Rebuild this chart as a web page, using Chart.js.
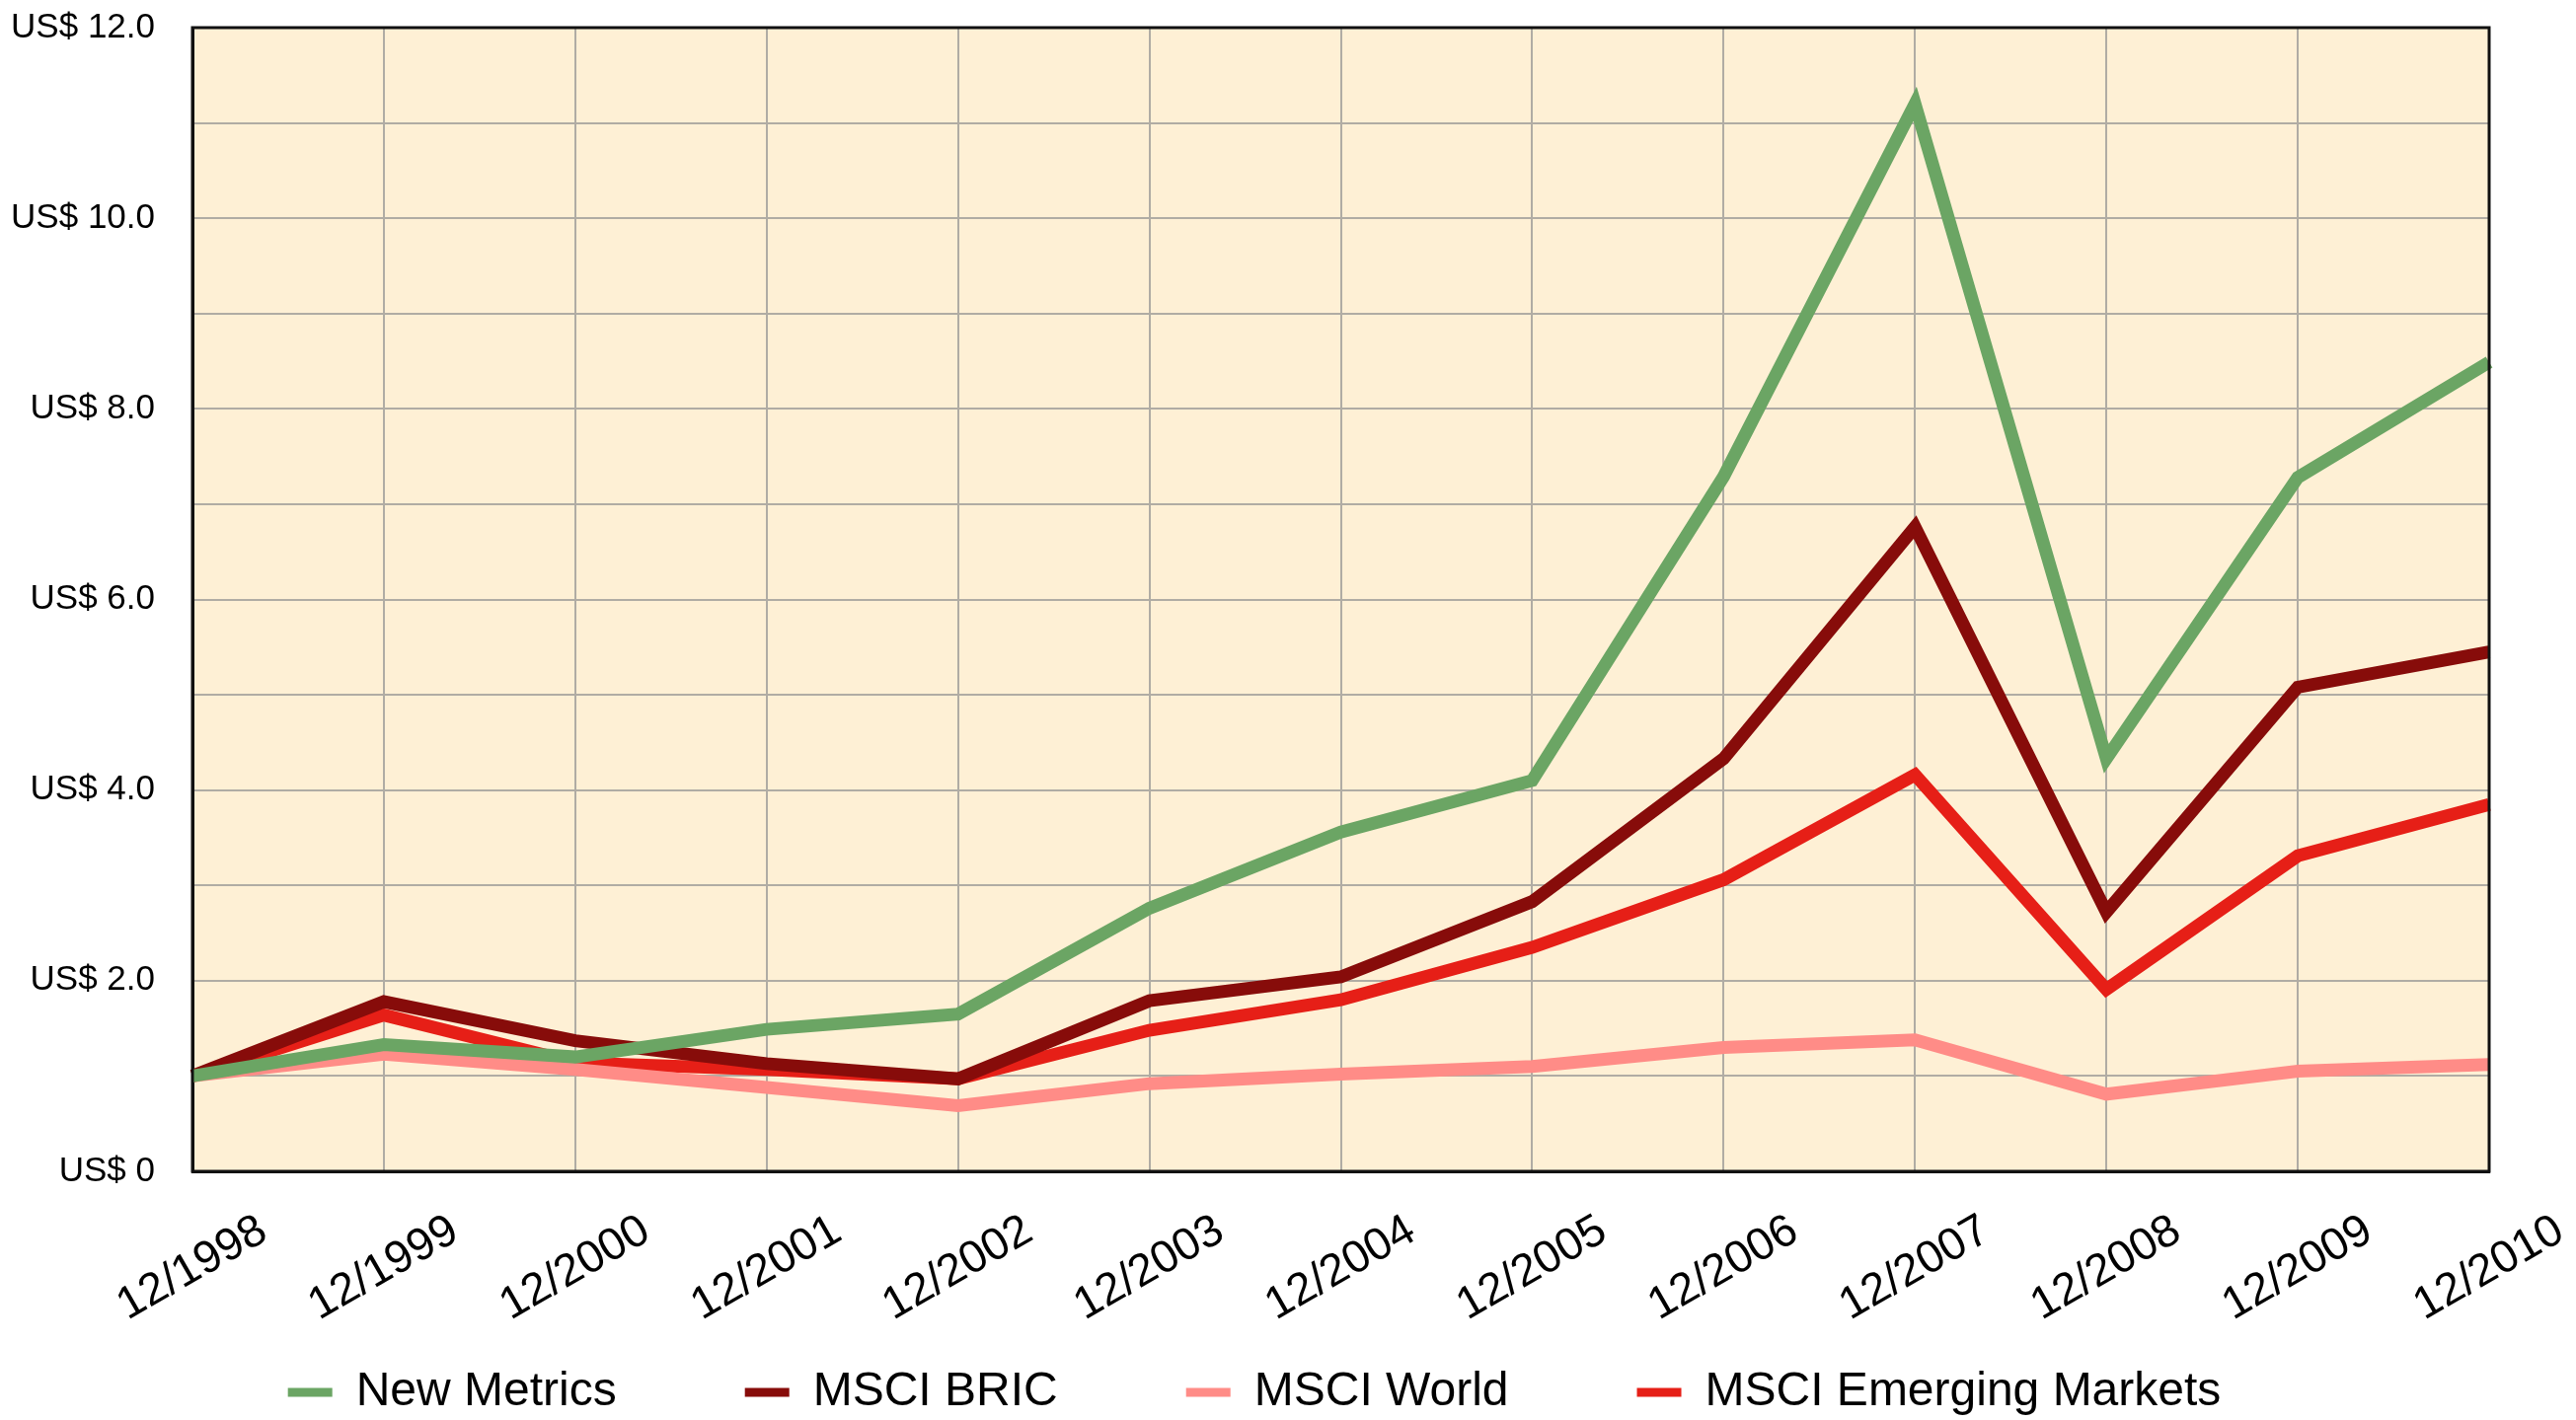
<!DOCTYPE html>
<html>
<head>
<meta charset="utf-8">
<title>Growth of US$ 1</title>
<script src="https://cdn.jsdelivr.net/npm/chart.js@4.4.1/dist/chart.umd.min.js"></script>
<style>
  html, body { margin: 0; padding: 0; background: #ffffff; }
  canvas { display: block; }
</style>
</head>
<body>
<canvas id="chart" width="2610" height="1439"></canvas>
<script>
// Categories (year end)
const years = ["12/1998", "12/1999", "12/2000", "12/2001", "12/2002", "12/2003", "12/2004",
  "12/2005", "12/2006", "12/2007", "12/2008", "12/2009", "12/2010"];

// Value of US$ 1 invested at 12/1998
const newMetrics = [1.0, 1.33, 1.2, 1.49, 1.65, 2.76, 3.56, 4.1, 7.29, 11.2, 4.33, 7.28, 8.49];
const msciBric = [1.0, 1.78, 1.37, 1.13, 0.97, 1.79, 2.04, 2.83, 4.33, 6.76, 2.72, 5.08, 5.45];
const msciWorld = [1.0, 1.23, 1.07, 0.88, 0.69, 0.92, 1.02, 1.1, 1.3, 1.38, 0.81, 1.05, 1.12];
const msciEmerging = [1.0, 1.64, 1.14, 1.07, 0.97, 1.48, 1.8, 2.35, 3.06, 4.16, 1.91, 3.31, 3.85];

// y tick labels, one per unit step (odd steps are unlabeled grid lines)
const yTickLabels = ["US$ 0", "", "US$ 2.0", "", "US$ 4.0", "", "US$ 6.0", "",
  "US$ 8.0", "", "US$ 10.0", "", "US$ 12.0"];

const FONT = "'Liberation Sans', Arial, Helvetica, sans-serif";

// cream plot background + black frame
const plotFrame = {
  id: "plotFrame",
  beforeDraw(chart) {
    const { ctx, chartArea: a } = chart;
    ctx.save();
    ctx.fillStyle = "#fef0d5";
    ctx.fillRect(a.left, a.top, a.right - a.left, a.bottom - a.top);
    ctx.restore();
  },
  afterDatasetsDraw(chart) {
    const { ctx, chartArea: a } = chart;
    ctx.save();
    ctx.strokeStyle = "#111111";
    ctx.lineWidth = 3;
    ctx.strokeRect(a.left, a.top, a.right - a.left, a.bottom - a.top);
    ctx.restore();
  }
};

function series(label, data, color) {
  return {
    label: label,
    data: data,
    borderColor: color,
    backgroundColor: color,
    borderWidth: 13,
    pointRadius: 0,
    tension: 0,
    fill: false
  };
}

// tick labels stick out of their scale boxes here, so skip the label clipping
const noLabelClip = () => undefined;

const ctx = document.getElementById("chart").getContext("2d");

new Chart(ctx, {
  type: "line",
  data: {
    labels: years,
    datasets: [
      series("New Metrics", newMetrics, "#6ba564"),
      series("MSCI BRIC", msciBric, "#870c0a"),
      series("MSCI World", msciWorld, "#ff8c87"),
      series("MSCI Emerging Markets", msciEmerging, "#e61f17")
    ]
  },
  options: {
    responsive: false,
    animation: false,
    layout: {
      padding: { left: 20, right: 88, top: 28, bottom: -6 }
    },
    scales: {
      x: {
        offset: false,
        grid: { color: "#b0aca4", lineWidth: 2, drawTicks: false },
        border: { color: "#111111", width: 3 },
        ticks: {
          color: "#000000",
          font: { family: FONT, size: 46 },
          minRotation: 30,
          maxRotation: 30,
          autoSkip: false,
          labelOffset: 72,
          padding: 33
        },
        afterFit(scale) {
          scale.paddingLeft = 0;
          scale.paddingRight = 0;
          scale.height = 70;
          scale._computeLabelArea = noLabelClip;
        }
      },
      y: {
        min: 0,
        max: 12,
        grid: { color: "#b0aca4", lineWidth: 2, drawTicks: false },
        border: { color: "#111111", width: 3 },
        ticks: {
          stepSize: 1,
          color: "#000000",
          font: { family: FONT, size: 35 },
          padding: 38,
          callback: (value) => yTickLabels[value]
        },
        afterFit(scale) {
          scale.width = 175;
          scale.paddingTop = 0;
          scale.paddingBottom = 0;
          scale._computeLabelArea = noLabelClip;
        }
      }
    },
    plugins: {
      legend: {
        position: "bottom",
        align: "center",
        labels: {
          color: "#000000",
          font: { family: FONT, size: 48 },
          boxWidth: 45,
          boxHeight: 9,
          padding: 130,
          generateLabels(chart) {
            const items = Chart.defaults.plugins.legend.labels.generateLabels(chart);
            items.forEach((item) => {
              item.lineWidth = 0;
              item.fillStyle = item.strokeStyle;
            });
            return items;
          }
        }
      },
      tooltip: { enabled: false }
    }
  },
  plugins: [plotFrame]
});
</script>
</body>
</html>
